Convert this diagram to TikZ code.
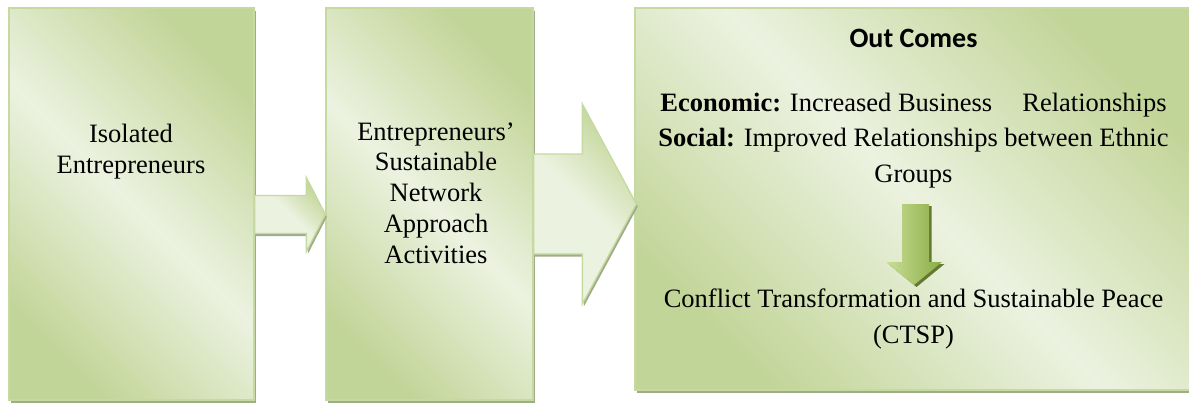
\documentclass[tikz,border=0pt]{standalone}
\usepackage{fontspec}
\setmainfont{Liberation Serif}
\newfontfamily\calibri{Carlito}
\usetikzlibrary{calc,shadows}
\definecolor{gdark}{RGB}{194,213,152}
\definecolor{glight}{RGB}{236,242,224}
\definecolor{gborder}{RGB}{198,217,160}
\definecolor{gshadow}{RGB}{160,172,136}
\definecolor{adark}{RGB}{138,172,68}
\definecolor{alight}{RGB}{202,222,150}
\definecolor{ashadow}{RGB}{100,120,52}
\begin{document}
\begin{tikzpicture}[x=1pt,y=-1pt,
  box/.style={draw=gborder, line width=1.3pt, inner sep=0pt,
    top color=gdark, bottom color=gdark, middle color=glight, shading angle=-45,
    drop shadow={shadow xshift=1.8pt, shadow yshift=-2.8pt, fill=gshadow, opacity=1}},
  blockarrow/.style={draw=gborder, line width=1.3pt, line join=miter,
    top color=gdark, bottom color=glight, middle color=glight, shading angle=-45,
    drop shadow={shadow xshift=1.5pt, shadow yshift=-2.5pt, fill=gshadow, opacity=1}},
  downarrow/.style={left color=alight, right color=adark,
    drop shadow={shadow xshift=2.5pt, shadow yshift=-2pt, fill=ashadow, opacity=1}},
  txt/.style={font=\fontsize{26.5}{30.75}\selectfont, align=center, inner sep=0pt, anchor=base},
  txtb/.style={font=\fontsize{26.5}{35.5}\selectfont, align=center, inner sep=0pt, anchor=base},
  title/.style={font=\calibri\bfseries\fontsize{28}{32}\selectfont, inner sep=0pt, anchor=base}]
\useasboundingbox (0,0) rectangle (1189,402);

% boxes
\node[box, minimum width=245pt, minimum height=392pt] (b1) at (131.5,204) {};
\node[box, minimum width=207pt, minimum height=392pt] (b2) at (429.5,204) {};
\node[box, minimum width=560pt, minimum height=382pt] (b3) at (915,199) {};

% block arrow 1
\coordinate (a1s) at ($(b1.east)+(0,10.5)$);
\coordinate (a1t) at (a1s -| b2.west);
\draw[blockarrow] ($(a1s)+(0,-19)$) -- ($(a1t)+(-19,-19)$) -- ($(a1t)+(-19,-37)$)
  -- (a1t) -- ($(a1t)+(-19,37)$) -- ($(a1t)+(-19,19)$) -- ($(a1s)+(0,19)$) -- cycle;

% block arrow 2
\coordinate (a2s) at (b2.east);
\coordinate (a2t) at ($(a2s -| b3.west)+(2,0)$);
\draw[blockarrow] ($(a2s)+(0,-50)$) -- ($(a2t)+(-54,-50)$) -- ($(a2t)+(-54,-100)$)
  -- (a2t) -- ($(a2t)+(-54,100)$) -- ($(a2t)+(-54,50)$) -- ($(a2s)+(0,50)$) -- cycle;

% texts (anchor base = baseline of the last line)
\node[txt] (t1) at (131,173) {Isolated\\Entrepreneurs};
\node[txt] (t2) at (436,263) {Entrepreneurs’\\Sustainable\\Network\\Approach\\Activities};
\node[title] (t3) at (913.5,47) {Out Comes};
\node[txtb] (t4) at (913.5,182) {\textbf{Economic:} Increased Business\hspace{30pt}Relationships\\
  \textbf{Social:} Improved Relationships between Ethnic\\Groups};
\node[txtb] (t5) at (913.5,343) {Conflict Transformation and Sustainable Peace\\(CTSP)};

% down arrow
\coordinate (d1) at (915.5,204);
\coordinate (d2) at (914,285);
\path[downarrow] ($(d1)+(-13.5,0)$) -- ($(d1)+(13.5,0)$) -- ($(d2)+(15,-23)$)
  -- ($(d2)+(28,-23)$) -- (d2) -- ($(d2)+(-28,-23)$) -- ($(d2)+(-12,-23)$) -- cycle;
\end{tikzpicture}
\end{document}
